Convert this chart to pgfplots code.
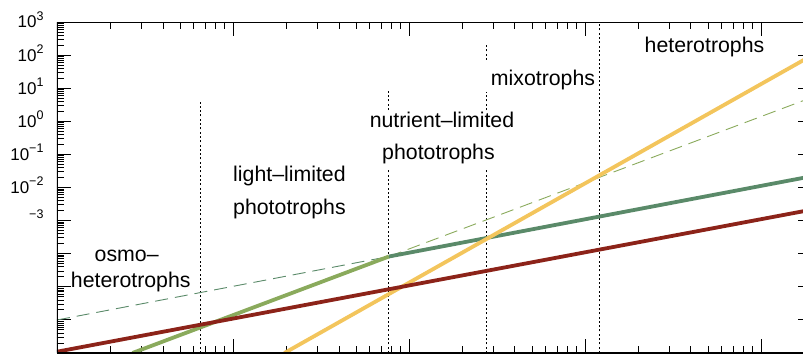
\documentclass[border=0pt]{standalone}
\usepackage{pgfplots}
\pgfplotsset{compat=1.18}
\usepackage{fontspec}
\setmainfont{Liberation Sans}
\definecolor{cred}{RGB}{140,35,25}
\definecolor{cdg}{RGB}{90,138,105}
\definecolor{clg}{RGB}{138,170,92}
\definecolor{cyel}{RGB}{243,197,92}
\newcommand\tl[1]{10\raisebox{0.45em}{\fontsize{12.5}{12.5}\selectfont #1}}
\newcommand\tlm[1]{\phantom{10}\raisebox{0.45em}{\fontsize{12.5}{12.5}\selectfont #1}}
\newcommand\lab{\fontsize{21.3}{25}\selectfont}
\begin{document}
\begin{tikzpicture}
\begin{axis}[
  scale only axis, width=755pt, height=331pt,
  xmode=log, ymode=log,
  xmin=1, xmax=19498, ymin=1e-7, ymax=1e3,
  xtick={1,10,100,1000,10000}, xticklabels={},
  minor xtick={2,3,4,5,6,7,8,9,20,30,40,50,60,70,80,90,200,300,400,500,600,700,800,900,2000,3000,4000,5000,6000,7000,8000,9000},
  ytick={1e-7,1e-6,1e-5,1e-4,1e-3,1e-2,1e-1,1,10,100,1000},
  yticklabels={,,,,\tlm{−3},\tl{−2},\tl{−1},\tl{0},\tl{1},\tl{2},\tl{3}},
  minor ytick={2e-7,3e-7,4e-7,5e-7,6e-7,7e-7,8e-7,9e-7,2e-6,3e-6,4e-6,5e-6,6e-6,7e-6,8e-6,9e-6,2e-5,3e-5,4e-5,5e-5,6e-5,7e-5,8e-5,9e-5,2e-4,3e-4,4e-4,5e-4,6e-4,7e-4,8e-4,9e-4,2e-3,3e-3,4e-3,5e-3,6e-3,7e-3,8e-3,9e-3,2e-2,3e-2,4e-2,5e-2,6e-2,7e-2,8e-2,9e-2,0.2,0.3,0.4,0.5,0.6,0.7,0.8,0.9,2,3,4,5,6,7,8,9,20,30,40,50,60,70,80,90,200,300,400,500,600,700,800,900},
  tick align=inside,
  major tick length=14pt, minor tick length=7pt,
  every tick/.style={black, line width=0.9pt},
  axis line style={line width=0.9pt},
  yticklabel style={anchor=base east, yshift=-6pt, xshift=-10pt, font=\fontsize{17}{17}\selectfont},
]
% vertical dotted lines
\addplot[black, line width=1pt, dash pattern=on 2pt off 2.3pt] coordinates {(6.577,1e-7) (6.577,4.4)};
\addplot[black, line width=1pt, dash pattern=on 2pt off 2.3pt] coordinates {(76.91,1e-7) (76.91,0.0338)};
\addplot[black, line width=1pt, dash pattern=on 2pt off 2.3pt] coordinates {(76.91,2.19) (76.91,8.83)};
\addplot[black, line width=1pt, dash pattern=on 2pt off 2.3pt] coordinates {(277.3,1e-7) (277.3,0.0338)};
\addplot[black, line width=1pt, dash pattern=on 2pt off 2.3pt] coordinates {(277.3,2.19) (277.3,7.68)};
\addplot[black, line width=1pt, dash pattern=on 2pt off 2.3pt] coordinates {(277.3,71.1) (277.3,201.9)};
\addplot[black, line width=1pt, dash pattern=on 2pt off 2.3pt] coordinates {(1216,1e-7) (1216,1000)};
% dashed extensions
\addplot[cdg, line width=0.9pt, dash pattern=on 13pt off 7pt] coordinates {(1,9.93e-7) (76.91,8.22e-5)};
\addplot[clg, line width=0.9pt, dash pattern=on 13pt off 7pt] coordinates {(76.91,8.22e-5) (19498,5.284)};
% solid lines
\addplot[clg, line width=3.8pt] coordinates {(2.683,1e-7) (76.91,8.22e-5)};
\addplot[cdg, line width=3.8pt] coordinates {(76.91,8.22e-5) (19498,0.02193)};
\addplot[cyel, line width=3.8pt] coordinates {(19.60,1e-7) (19498,98.4)};
\addplot[cred, line width=3.8pt] coordinates {(1,1.094e-7) (19498,2.148e-3)};
% thick left and bottom axis lines
\draw[line width=2.5pt] (rel axis cs:0,1) -- (rel axis cs:0,0) -- (rel axis cs:1,0);
% labels
\node[anchor=base, font=\lab] at (rel axis cs:0.0923,0.2758) {osmo–};
\node[anchor=base, font=\lab] at (rel axis cs:0.0977,0.1979) {heterotrophs};
\node[anchor=base, font=\lab] at (rel axis cs:0.3079,0.5196) {light–limited};
\node[anchor=base, font=\lab] at (rel axis cs:0.3079,0.4199) {phototrophs};
\node[anchor=base, font=\lab] at (rel axis cs:0.5099,0.6798) {nutrient–limited};
\node[anchor=base, font=\lab] at (rel axis cs:0.5053,0.5846) {phototrophs};
\node[anchor=base, font=\lab] at (rel axis cs:0.6437,0.8082) {mixotrophs};
\node[anchor=base, font=\lab] at (rel axis cs:0.8576,0.9085) {heterotrophs};
\end{axis}
\pgfresetboundingbox
\path[use as bounding box] (-57pt,-5pt) rectangle (746pt,353pt);
\end{tikzpicture}
\end{document}
